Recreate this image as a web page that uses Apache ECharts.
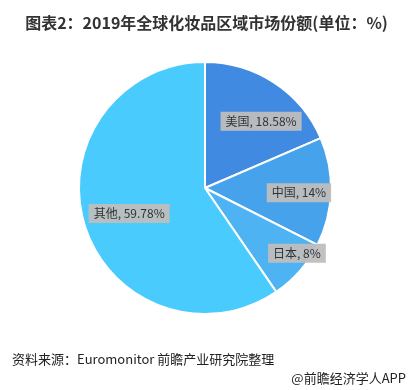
<!DOCTYPE html>
<html><head><meta charset="utf-8">
<script src="https://cdn.jsdelivr.net/npm/echarts@6/dist/echarts.min.js"></script>
<style>html,body{margin:0;padding:0;background:#fff}#c{width:413px;height:390px}</style>
</head><body><div id="c"></div>
<script>
const categories = ['美国', '中国', '日本', '其他'];
const values = [18.58, 14, 8, 59.78];
const valueLabels = ['18.58%', '14%', '8%', '59.78%'];
const colors = ['#418ae2', '#47a2ec', '#4db3f2', '#49cbfd'];

const chart = echarts.init(document.getElementById('c'));
const data = categories.map((c, i) => ({ name: c, value: values[i], itemStyle: { color: colors[i] } }));
const labelData = categories.map((c, i) => ({ name: c, value: values[i], lab: valueLabels[i] }));
chart.setOption({
  animation: false,
  title: [{
    text: '图表2：2019年全球化妆品区域市场份额(单位：%)',
    left: 'center', top: 10,
    textStyle: { fontFamily: 'Noto Sans CJK SC', fontWeight: 'bold', fontSize: 16, color: '#333' }
  }, {
    text: '资料来源：Euromonitor 前瞻产业研究院整理',
    left: 7, top: 348,
    textStyle: { fontFamily: 'Noto Sans CJK SC', fontWeight: 'normal', fontSize: 13, color: '#222' }
  }, {
    text: '@前瞻经济学人APP',
    right: 2, top: 367,
    textStyle: { fontFamily: 'Noto Sans CJK SC', fontWeight: 'normal', fontSize: 13, color: '#222' }
  }],
  series: [{
    type: 'pie',
    center: [205, 188],
    radius: [0, 126],
    startAngle: 90,
    clockwise: true,
    data: data,
    label: { show: false },
    labelLine: { show: false },
    itemStyle: { borderColor: '#fff', borderWidth: 2 },
    silent: true
  }, {
    type: 'pie',
    center: [205, 188],
    radius: [54, 126],
    startAngle: 90,
    clockwise: true,
    data: labelData,
    silent: true,
    itemStyle: { color: 'rgba(0,0,0,0)' },
    labelLine: { show: false },
    label: {
      show: true,
      position: 'inside',
      formatter: p => p.name + ', ' + p.data.lab,
      fontFamily: 'Noto Sans CJK SC',
      fontSize: 12,
      color: '#333',
      backgroundColor: 'rgba(190,190,190,0.95)',
      padding: [4, 5, 3, 5]
    },
    labelLayout: function (p) {
      const adj = [[5, 11], [1, 2], [22, 4], [13, -2]];
      return { dx: adj[p.dataIndex][0], dy: adj[p.dataIndex][1] };
    }
  }]
});
</script></body></html>
